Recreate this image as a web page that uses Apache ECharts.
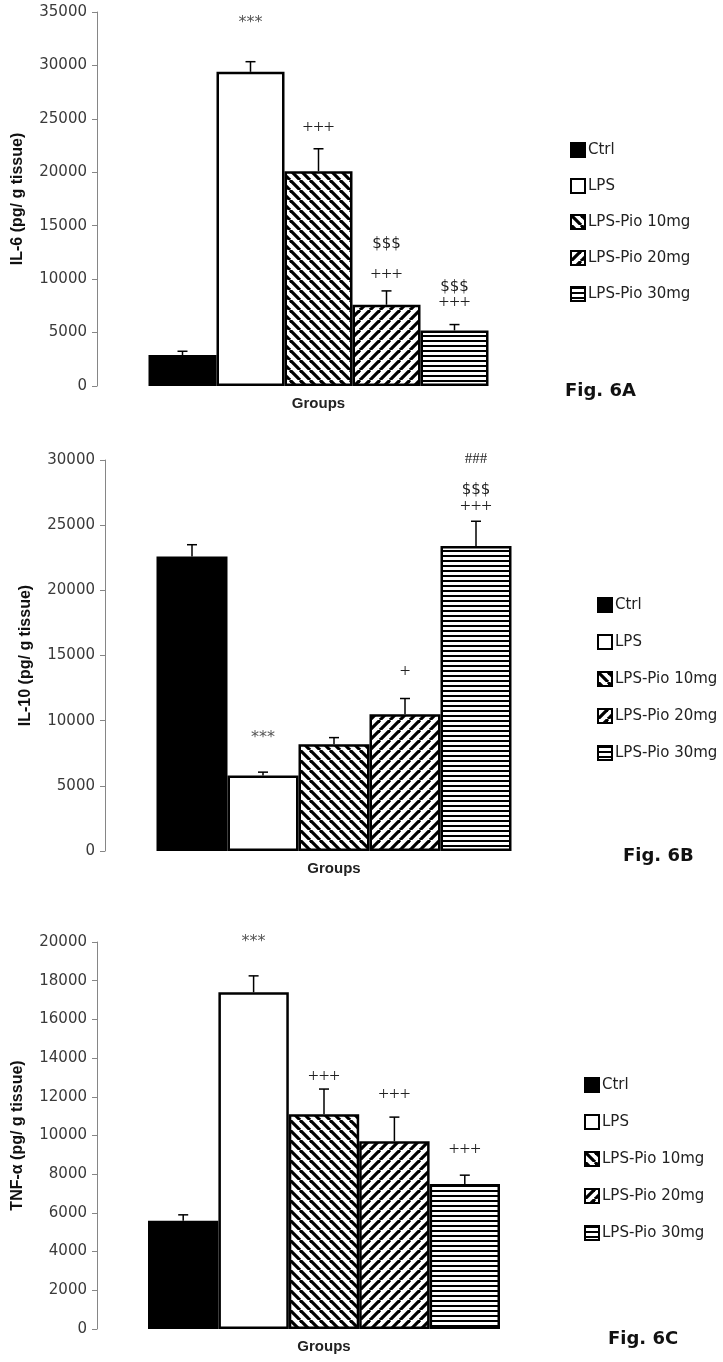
<!DOCTYPE html>
<html>
<head>
<meta charset="utf-8">
<script src="https://cdn.jsdelivr.net/npm/echarts@6/dist/echarts.min.js"></script>
<style>
  html, body { margin: 0; padding: 0; background: #fff; }
  #chart { width: 723px; height: 1362px; }
</style>
</head>
<body>
<div id="chart"></div>
<script>
// groups (one bar per group in every panel)
const groups = ["Ctrl", "LPS", "LPS-Pio 10mg", "LPS-Pio 20mg", "LPS-Pio 30mg"];
const xCategory = ["Groups"];

// Fig. 6A  IL-6
const il6Mean = [2900, 29400, 20100, 7600, 5200];
const il6Err = [350, 950, 2100, 1300, 550];
const il6Ticks = [0, 35000, 5000];
const il6Marks = [[1, 33950, "***"], [2, 24140, "+++"], [3, 13290, "$$$"], [3, 10390, "+++"], [4, 9265, "$$$"], [4, 7770, "+++"]];

// Fig. 6B  IL-10
const il10Mean = [22600, 5800, 8200, 10500, 23400];
const il10Err = [900, 250, 500, 1200, 1900];
const il10Ticks = [0, 30000, 5000];
const il10Marks = [[1, 8700, "***"], [3, 13735, "+"], [4, 30080, "###"], [4, 27700, "$$$"], [4, 26395, "+++"]];

// Fig. 6C  TNF-α
const tnfMean = [5600, 17400, 11100, 9700, 7500];
const tnfErr = [300, 850, 1300, 1250, 450];
const tnfTicks = [0, 20000, 2000];
const tnfMarks = [[1, 20000, "***"], [2, 13023, "+++"], [3, 12093, "+++"], [4, 9250, "+++"]];

// hatch fills
function hatch(kind) {
    const c = document.createElement("canvas");
    const s = kind === "h" ? 5 : 10;
    c.width = s; c.height = s;
    const ctx = c.getContext("2d");
    ctx.fillStyle = "#fff";
    ctx.fillRect(0, 0, s, s);
    ctx.fillStyle = "#000";
    ctx.strokeStyle = "#000";
    if (kind === "h") {
        ctx.fillRect(0, 0, s, 2);
    } else {
        ctx.lineWidth = 3.2;
        for (let k = -1; k <= 1; k++) {
            ctx.beginPath();
            if (kind === "back") {
                ctx.moveTo(k * s, 0); ctx.lineTo(k * s + s, s);
            } else {
                ctx.moveTo(k * s, s); ctx.lineTo(k * s + s, 0);
            }
            ctx.stroke();
        }
    }
    return { image: c, repeat: "repeat" };
}

const fills = ["#000", "#fff", hatch("back"), hatch("fwd"), hatch("h")];

const panels = [
    { title: "IL-6 (pg/ g tissue)", fig: "Fig. 6A", mean: il6Mean, err: il6Err, ticks: il6Ticks, marks: il6Marks,
      grid: { left: 97, top: 12, width: 443, height: 374 }, bw: 68,
      legend: { left: 565, top: 137, itemGap: 20 }, figPos: { left: 565, top: 382 } },
    { title: "IL-10 (pg/ g tissue)", fig: "Fig. 6B", mean: il10Mean, err: il10Err, ticks: il10Ticks, marks: il10Marks,
      grid: { left: 105, top: 460, width: 458, height: 391 }, bw: 71,
      legend: { left: 592, top: 592, itemGap: 21 }, figPos: { left: 623, top: 847 } },
    { title: "TNF-α (pg/ g tissue)", fig: "Fig. 6C", mean: tnfMean, err: tnfErr, ticks: tnfTicks, marks: tnfMarks,
      grid: { left: 97, top: 942, width: 454, height: 387 }, bw: 70.4,
      legend: { left: 579, top: 1072, itemGap: 21 }, figPos: { left: 608, top: 1330 } }
];

const grid = [], xAxis = [], yAxis = [], series = [], legend = [], title = [];

panels.forEach((p, k) => {
    grid.push(p.grid);
    xAxis.push({
        type: "category", gridIndex: k, data: xCategory,
        axisLine: { show: false }, axisTick: { show: false },
        axisLabel: { margin: 10, color: "#222", fontWeight: "bold", fontSize: 15, fontFamily: "Liberation Sans" }
    });
    yAxis.push({
        type: "value", gridIndex: k, min: p.ticks[0], max: p.ticks[1], interval: p.ticks[2],
        name: p.title, nameLocation: "middle", nameRotate: 90, nameGap: 71,
        nameTextStyle: { color: "#111", fontWeight: "bold", fontSize: 16, fontFamily: "Liberation Sans" },
        axisLine: { show: true, lineStyle: { color: "#868686", width: 1 } },
        axisTick: { show: true, length: 5, lineStyle: { color: "#868686" } },
        splitLine: { show: false },
        axisLabel: { margin: 10, color: "#3a3a3a", fontSize: 15, fontFamily: "DejaVu Sans", formatter: v => String(v) }
    });

    groups.forEach((g, i) => {
        series.push({
            type: "bar", name: g, xAxisIndex: k, yAxisIndex: k,
            barWidth: p.bw, barGap: "0%",
            itemStyle: { color: fills[i], borderColor: "#000", borderWidth: 2.5 },
            emphasis: { disabled: true },
            data: [p.mean[i]]
        });
    });

    // error bars
    const bw = p.bw;
    series.push({
        type: "custom", xAxisIndex: k, yAxisIndex: k, silent: true, z: 5, clip: false,
        data: p.mean.map((m, i) => [0, m, m + p.err[i], i]),
        encode: { x: 0, y: [1, 2] },
        renderItem: function (params, api) {
            const i = api.value(3);
            const base = api.coord([0, api.value(1)]);
            const top = api.coord([0, api.value(2)]);
            const x = base[0] + (i - 2) * bw;
            return {
                type: "group",
                children: [
                    { type: "line", shape: { x1: x, y1: base[1], x2: x, y2: top[1] }, style: { stroke: "#000", lineWidth: 1.5 } },
                    { type: "line", shape: { x1: x - 5, y1: top[1], x2: x + 5, y2: top[1] }, style: { stroke: "#000", lineWidth: 1.5 } }
                ]
            };
        }
    });

    // significance marks
    series.push({
        type: "custom", xAxisIndex: k, yAxisIndex: k, silent: true, z: 6, clip: false,
        data: p.marks.map(m => [0, m[1], m[0]]),
        encode: { x: 0, y: 1 },
        renderItem: function (params, api) {
            const i = api.value(2);
            const txt = p.marks[params.dataIndex][2];
            const pt = api.coord([0, api.value(1)]);
            let font = "15px 'DejaVu Sans'";
            if (txt.indexOf("+") >= 0) font = "19px 'Liberation Serif'";
            if (txt.indexOf("#") >= 0) font = "15px 'Liberation Serif'";
            if (txt === "***") font = "16px 'DejaVu Sans'";
            return {
                type: "text",
                style: {
                    text: txt, x: pt[0] + (i - 2) * bw, y: pt[1],
                    align: "center", verticalAlign: "middle",
                    fill: txt === "***" ? "#555" : "#222",
                    font: font
                }
            };
        }
    });

    legend.push({
        orient: "vertical", left: p.legend.left, top: p.legend.top, itemGap: p.legend.itemGap,
        itemWidth: 14, itemHeight: 14, icon: "rect", selectedMode: false,
        textStyle: { color: "#222", fontSize: 15, fontFamily: "DejaVu Sans", padding: [0, 0, 0, -2] },
        data: groups
    });

    title.push({
        text: p.fig, left: p.figPos.left, top: p.figPos.top, padding: 0,
        textStyle: { color: "#111", fontWeight: "bold", fontSize: 18, fontFamily: "DejaVu Sans" }
    });
});

const myChart = echarts.init(document.getElementById("chart"), null, { renderer: "canvas" });
myChart.setOption({
    backgroundColor: "#fff",
    animation: false,
    title: title,
    grid: grid,
    xAxis: xAxis,
    yAxis: yAxis,
    legend: legend,
    series: series
});
</script>
</body>
</html>
